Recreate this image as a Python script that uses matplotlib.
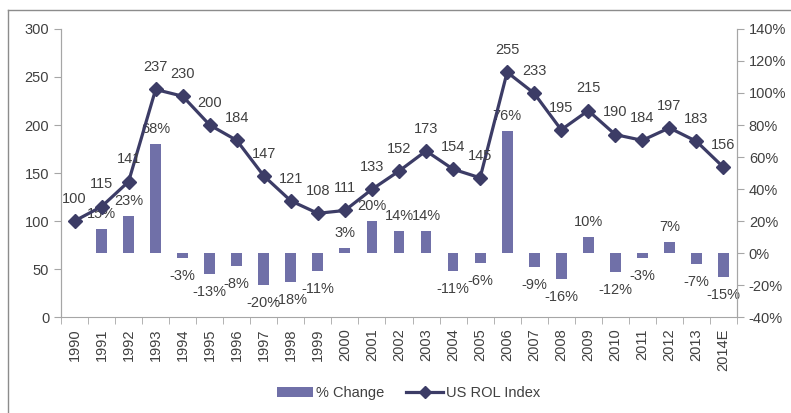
import numpy as np
import matplotlib.pyplot as plt
from matplotlib.lines import Line2D

plt.rcParams['font.family'] = ['Liberation Sans', 'DejaVu Sans']

# chart data
years = ['1990', '1991', '1992', '1993', '1994', '1995', '1996', '1997', '1998', '1999',
         '2000', '2001', '2002', '2003', '2004', '2005', '2006', '2007', '2008', '2009',
         '2010', '2011', '2012', '2013', '2014E']
rol_index = [100, 115, 141, 237, 230, 200, 184, 147, 121, 108,
             111, 133, 152, 173, 154, 145, 255, 233, 195, 215,
             190, 184, 197, 183, 156]
pct_change = [None, 15, 23, 68, -3, -13, -8, -20, -18, -11,
              3, 20, 14, 14, -11, -6, 76, -9, -16, 10,
              -12, -3, 7, -7, -15]

# style
bar_color  = '#7070A8'
line_color = '#3C3C66'
text_color = '#404040'
axis_color = '#A6A6A6'
font_size  = 10.5

fig = plt.figure(figsize=(7.91, 4.13), dpi=100)
ax = fig.add_axes([0.0771, 0.2324, 0.8546, 0.6974])
ax2 = ax.twinx()

x = np.arange(len(years))

# bars on the secondary (percent) axis
bx = [i for i, v in zip(x, pct_change) if v is not None]
bv = [v for v in pct_change if v is not None]
bars = ax2.bar(bx, bv, width=0.4, color=bar_color, zorder=2)
for xi, v in zip(bx, bv):
    off = 10.8 if v >= 0 else -13
    ax2.annotate(f"{v}%", xy=(xi, v), xytext=(0, off), textcoords='offset points',
                 ha='center', va='center', fontsize=font_size, color=text_color)

# line on the primary axis, drawn above the bars
ax.set_zorder(ax2.get_zorder() + 1)
ax.patch.set_visible(False)
ax.plot(x, rol_index, color=line_color, lw=2.3, marker='D', markersize=7.5, zorder=3)
for xi, v in zip(x, rol_index):
    ax.annotate(f"{v}", xy=(xi, v), xytext=(0, 16), textcoords='offset points',
                ha='center', va='center', fontsize=font_size, color=text_color)

ax.set_xlim(-0.5, len(years) - 0.5)
ax.set_ylim(0, 300)
ax.set_yticks(range(0, 301, 50))
ax2.set_ylim(-40, 140)
ax2.set_yticks(range(-40, 141, 20))
ax2.set_yticklabels([f"{t}%" for t in range(-40, 141, 20)])

ax.set_xticks(x)
ax.set_xticklabels(years, rotation=90)
ax.set_xticks(np.arange(-0.5, len(years), 1), minor=True)
ax.tick_params(axis='x', which='major', length=0, pad=8)
ax.tick_params(axis='x', which='minor', length=5, color=axis_color)

for a in (ax, ax2):
    a.tick_params(axis='both', labelsize=font_size, labelcolor=text_color, color=axis_color)
    a.tick_params(axis='y', length=5)
    for s in a.spines.values():
        s.set_color(axis_color)
    a.spines['top'].set_visible(False)
ax2.spines['bottom'].set_visible(False)

# legend at the bottom
handles = [bars, Line2D([], [], color=line_color, lw=2.3, marker='D', markersize=6)]
fig.legend(handles, ['% Change', 'US ROL Index'], loc='center', bbox_to_anchor=(0.5165, 0.048),
           ncol=2, frameon=False, fontsize=font_size, labelcolor=text_color,
           handlelength=2.5, columnspacing=1.5, handletextpad=0.2)

# outer frame (extends past the picture on the right and bottom)
fig.add_artist(Line2D([8 / 791, 1.0], [1 - 10 / 413, 1 - 10 / 413], transform=fig.transFigure,
                      color='#8C8C8C', lw=1))
fig.add_artist(Line2D([8 / 791, 8 / 791], [0.0, 1 - 10 / 413], transform=fig.transFigure,
                      color='#8C8C8C', lw=1))

fig.savefig('out.png', dpi=100)
